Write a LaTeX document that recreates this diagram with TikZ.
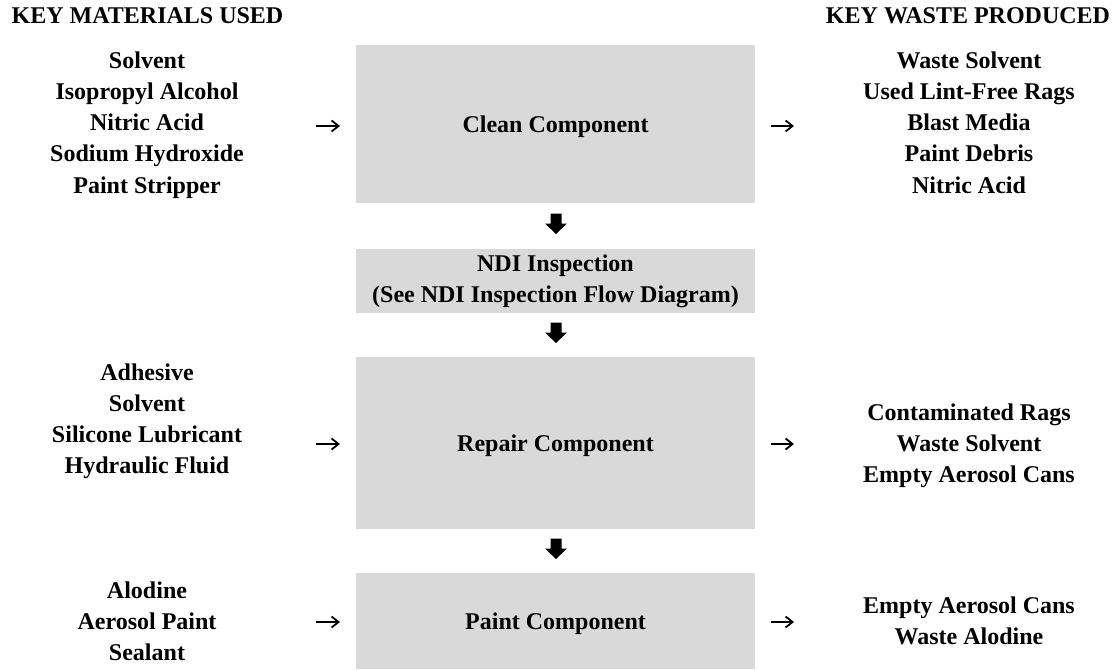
\documentclass[tikz,border=0pt]{standalone}
\usepackage{fontspec}
\setmainfont{Liberation Serif}
\usetikzlibrary{arrows.meta,calc}
\definecolor{boxgray}{HTML}{D9D9D9}
% centred column of lines; the baseline is that of the first line
\newcommand{\itemstack}[1]{\begin{tabular}[t]{@{}c@{}}#1\end{tabular}}
\begin{document}
\begin{tikzpicture}[x=1pt,y=-1pt,
  every node/.style={font=\bfseries\fontsize{24}{31.3}\selectfont, inner sep=0pt},
  stepbox/.style={fill=boxgray, minimum width=399pt, text height=16pt, text depth=0pt},
  ndibox/.style={fill=boxgray, minimum width=399pt},
  itemlist/.style={anchor=base},
  feed/.style={line width=1.8pt, -{Straight Barb[length=7pt,width=11pt]}},
  downarrow/.pic={\fill (-5.5,-10) -- (5.5,-10) -- (5.5,0) -- (11,0) -- (0,10.5) -- (-11,0) -- (-5.5,0) -- cycle;}
]
\useasboundingbox (0,0) rectangle (1118,669);

% column headings
\node[itemlist] (hin)  at (147.5,24) {KEY MATERIALS USED};
\node[itemlist] (hout) at (968,24)   {KEY WASTE PRODUCED};

% process steps
\node[stepbox, minimum height=158pt] (clean)  at (555.5,124) {Clean Component};
\node[ndibox,  minimum height=64pt]  (ndi)    at (555.5,281)
  {\begin{tabular}{@{}c@{}}NDI Inspection\\(See NDI Inspection Flow Diagram)\end{tabular}};
\node[stepbox, minimum height=172pt] (repair) at (555.5,443) {Repair Component};
\node[stepbox, minimum height=96pt]  (paint)  at (555.5,621) {Paint Component};

% materials in
\node[itemlist] (incl) at (147,68)
  {\itemstack{Solvent\\Isopropyl Alcohol\\Nitric Acid\\Sodium Hydroxide\\Paint Stripper}};
\node[itemlist] (inrp) at (147,380)
  {\itemstack{Adhesive\\Solvent\\Silicone Lubricant\\Hydraulic Fluid}};
\node[itemlist] (inpt) at (147,598)
  {\itemstack{Alodine\\Aerosol Paint\\Sealant}};

% waste out
\node[itemlist] (outcl) at (969,68)
  {\itemstack{Waste Solvent\\Used Lint-Free Rags\\Blast Media\\Paint Debris\\Nitric Acid}};
\node[itemlist] (outrp) at (969,420)
  {\itemstack{Contaminated Rags\\Waste Solvent\\Empty Aerosol Cans}};
\node[itemlist] (outpt) at (969,613)
  {\itemstack{Empty Aerosol Cans\\Waste Alodine}};

% feed arrows
\coordinate (a1) at (316,126); \coordinate (b1) at (340,126);
\coordinate (c1) at (771,126); \coordinate (e1) at (794,126);
\coordinate (a2) at (316,444); \coordinate (b2) at (340,444);
\coordinate (c2) at (771,444); \coordinate (e2) at (794,444);
\coordinate (a3) at (316,622); \coordinate (b3) at (340,622);
\coordinate (c3) at (771,622); \coordinate (e3) at (794,622);
\foreach \i in {1,2,3} {
  \draw[feed] (a\i) -- (b\i);
  \draw[feed] (c\i) -- (e\i);
}

% flow arrows between steps
\coordinate (f1) at ($(clean.south)!0.5!(ndi.north)+(0.5,-2.5)$);
\coordinate (f2) at ($(ndi.south)!0.5!(repair.north)+(0.5,-2.5)$);
\coordinate (f3) at ($(repair.south)!0.5!(paint.north)+(0.5,-2.5)$);
\pic at (f1) {downarrow};
\pic at (f2) {downarrow};
\pic at (f3) {downarrow};
\end{tikzpicture}
\end{document}
